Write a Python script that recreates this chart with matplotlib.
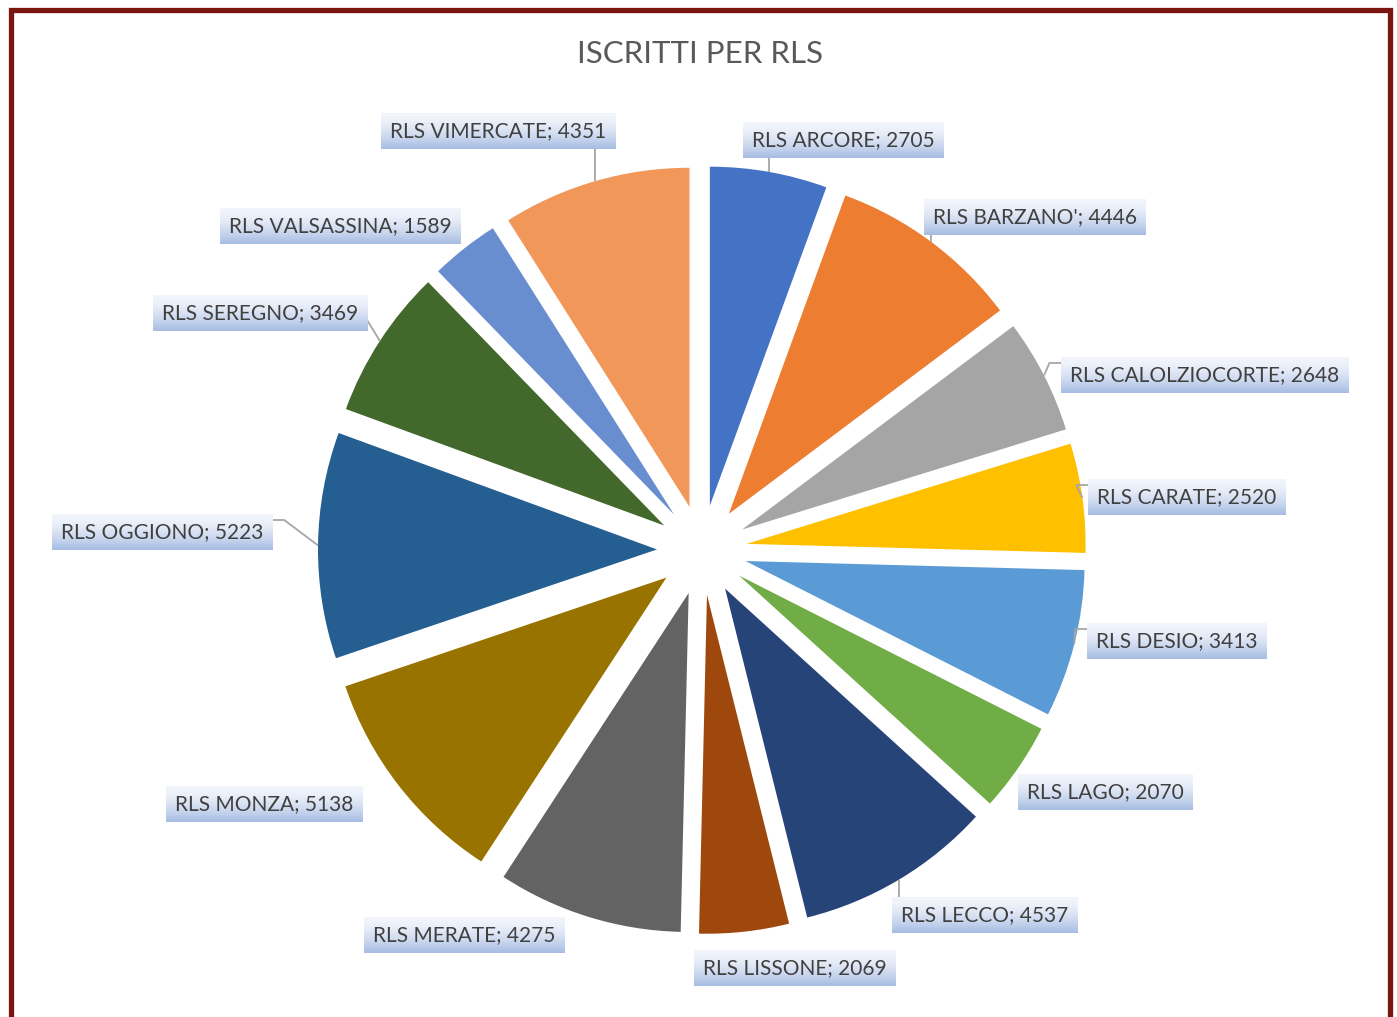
import numpy as np
import matplotlib
matplotlib.use("Agg")
import matplotlib.pyplot as plt
from matplotlib.patches import Rectangle
from matplotlib.colors import to_rgb

# ---------------- data ----------------
categories = ["RLS ARCORE", "RLS BARZANO'", "RLS CALOLZIOCORTE", "RLS CARATE",
              "RLS DESIO", "RLS LAGO", "RLS LECCO", "RLS LISSONE", "RLS MERATE",
              "RLS MONZA", "RLS OGGIONO", "RLS SEREGNO", "RLS VALSASSINA",
              "RLS VIMERCATE"]
values = [2705, 4446, 2648, 2520, 3413, 2070, 4537, 2069, 4275, 5138, 5223,
          3469, 1589, 4351]
colors = ["#4472C4", "#ED7D31", "#A5A5A5", "#FFC000", "#5B9BD5", "#70AD47",
          "#264478", "#9E480E", "#636363", "#997300", "#255E91", "#43682B",
          "#698ED0", "#F1975A"]
title = "ISCRITTI PER RLS"

# label box centres (image pixel coords, origin top-left) and leader flags
label_pos = [(843, 140), (1035, 217), (1205, 375), (1187, 497), (1177, 641),
             (1105, 792), (985, 915), (795, 968), (464, 935), (264, 804),
             (162, 532), (260, 313), (340, 226), (498, 131)]
has_leader = [True, True, True, True, True, False, True, False, False, False,
              True, True, False, True]

# ---------------- layout ----------------
W, H = 1397, 1017
CX, CY = 702, 550          # pie centre (image coords)
R = 339
EXPL = 45
FONT = "Lato"

fig = plt.figure(figsize=(W / 100, H / 100), dpi=100)
ax = fig.add_axes([0, 0, 1, 1])
ax.pie(values, colors=colors, startangle=90, counterclock=False, radius=R,
       center=(CX, H - CY), explode=[EXPL] * len(values),
       wedgeprops=dict(linewidth=0))
ax.set_xlim(0, W)
ax.set_ylim(0, H)
ax.set_aspect("equal")
ax.axis("off")

# title
ax.text(700, H - 54, title, ha="center", va="center", fontsize=22.5,
        color="#595959", family=FONT)

# labels
texts = []
for cat, v, (lx, ly) in zip(categories, values, label_pos):
    t = ax.text(lx, H - ly, f"{cat}; {v}", ha="center", va="center",
                fontsize=15, color="#404040", family=FONT, zorder=5)
    texts.append(t)

fig.canvas.draw()
renderer = fig.canvas.get_renderer()

# gradient
top_c = np.array(to_rgb("#F2F5FB"))
bot_c = np.array(to_rgb("#A6BCE3"))
n = 64
tt = np.linspace(0, 1, n) ** 1.6
grad = (top_c[None, :] * (1 - tt[:, None]) + bot_c[None, :] * tt[:, None])
grad = grad[:, None, :]

# angles for leaders
total = float(sum(values))
cum = np.cumsum([0] + values)
for i, t in enumerate(texts):
    bb = t.get_window_extent(renderer)
    lx, ly = label_pos[i]
    x0 = bb.x0 - 9
    x1 = bb.x1 + 9
    y0 = (H - ly) - 18
    y1 = (H - ly) + 18
    ax.imshow(grad, extent=(x0, x1, y0, y1), aspect="auto", zorder=4,
              interpolation="bilinear")

    if has_leader[i]:
        mid = 90 - 360.0 * (cum[i] + values[i] / 2.0) / total
        th = np.deg2rad(mid)
        ecx = CX + EXPL * np.cos(th)
        ecy = (H - CY) + EXPL * np.sin(th)
        px = ecx + R * np.cos(th)
        py = ecy + R * np.sin(th)
        if px < x0 or px > x1:
            sx = x0 if px < x0 else x1
            if py < y0:
                sy = y0 + 11
                xs = [sx, px]
                ys = [sy, py]
            else:
                sy = y1 - 6
                stub = sx - 12 if px < x0 else sx + 12
                xs = [sx, stub, px]
                ys = [sy, sy, py]
        else:
            sy = y1 if py > y1 else y0
            ax_x = min(max(px, x0 + 6), x1 - 6)
            if abs(ax_x - px) < 1:
                xs = [px, px]
                ys = [sy, py]
            else:
                xs = [ax_x + 12, ax_x, px]
                ys = [sy, sy, py]
        ax.plot(xs, ys, color="#A6A6A6", lw=1.3, zorder=3,
                solid_capstyle="butt")

ax.set_xlim(0, W)
ax.set_ylim(0, H)

# outer border (bottom edge lies outside the picture)
fig.patches.append(Rectangle((10.5 / W, -0.05), (1389.5 - 10.5) / W,
                             (H - 10.5) / H + 0.05, transform=fig.transFigure,
                             fill=False, edgecolor="#7A1610", linewidth=3.8))

fig.savefig("out.png", dpi=100)
